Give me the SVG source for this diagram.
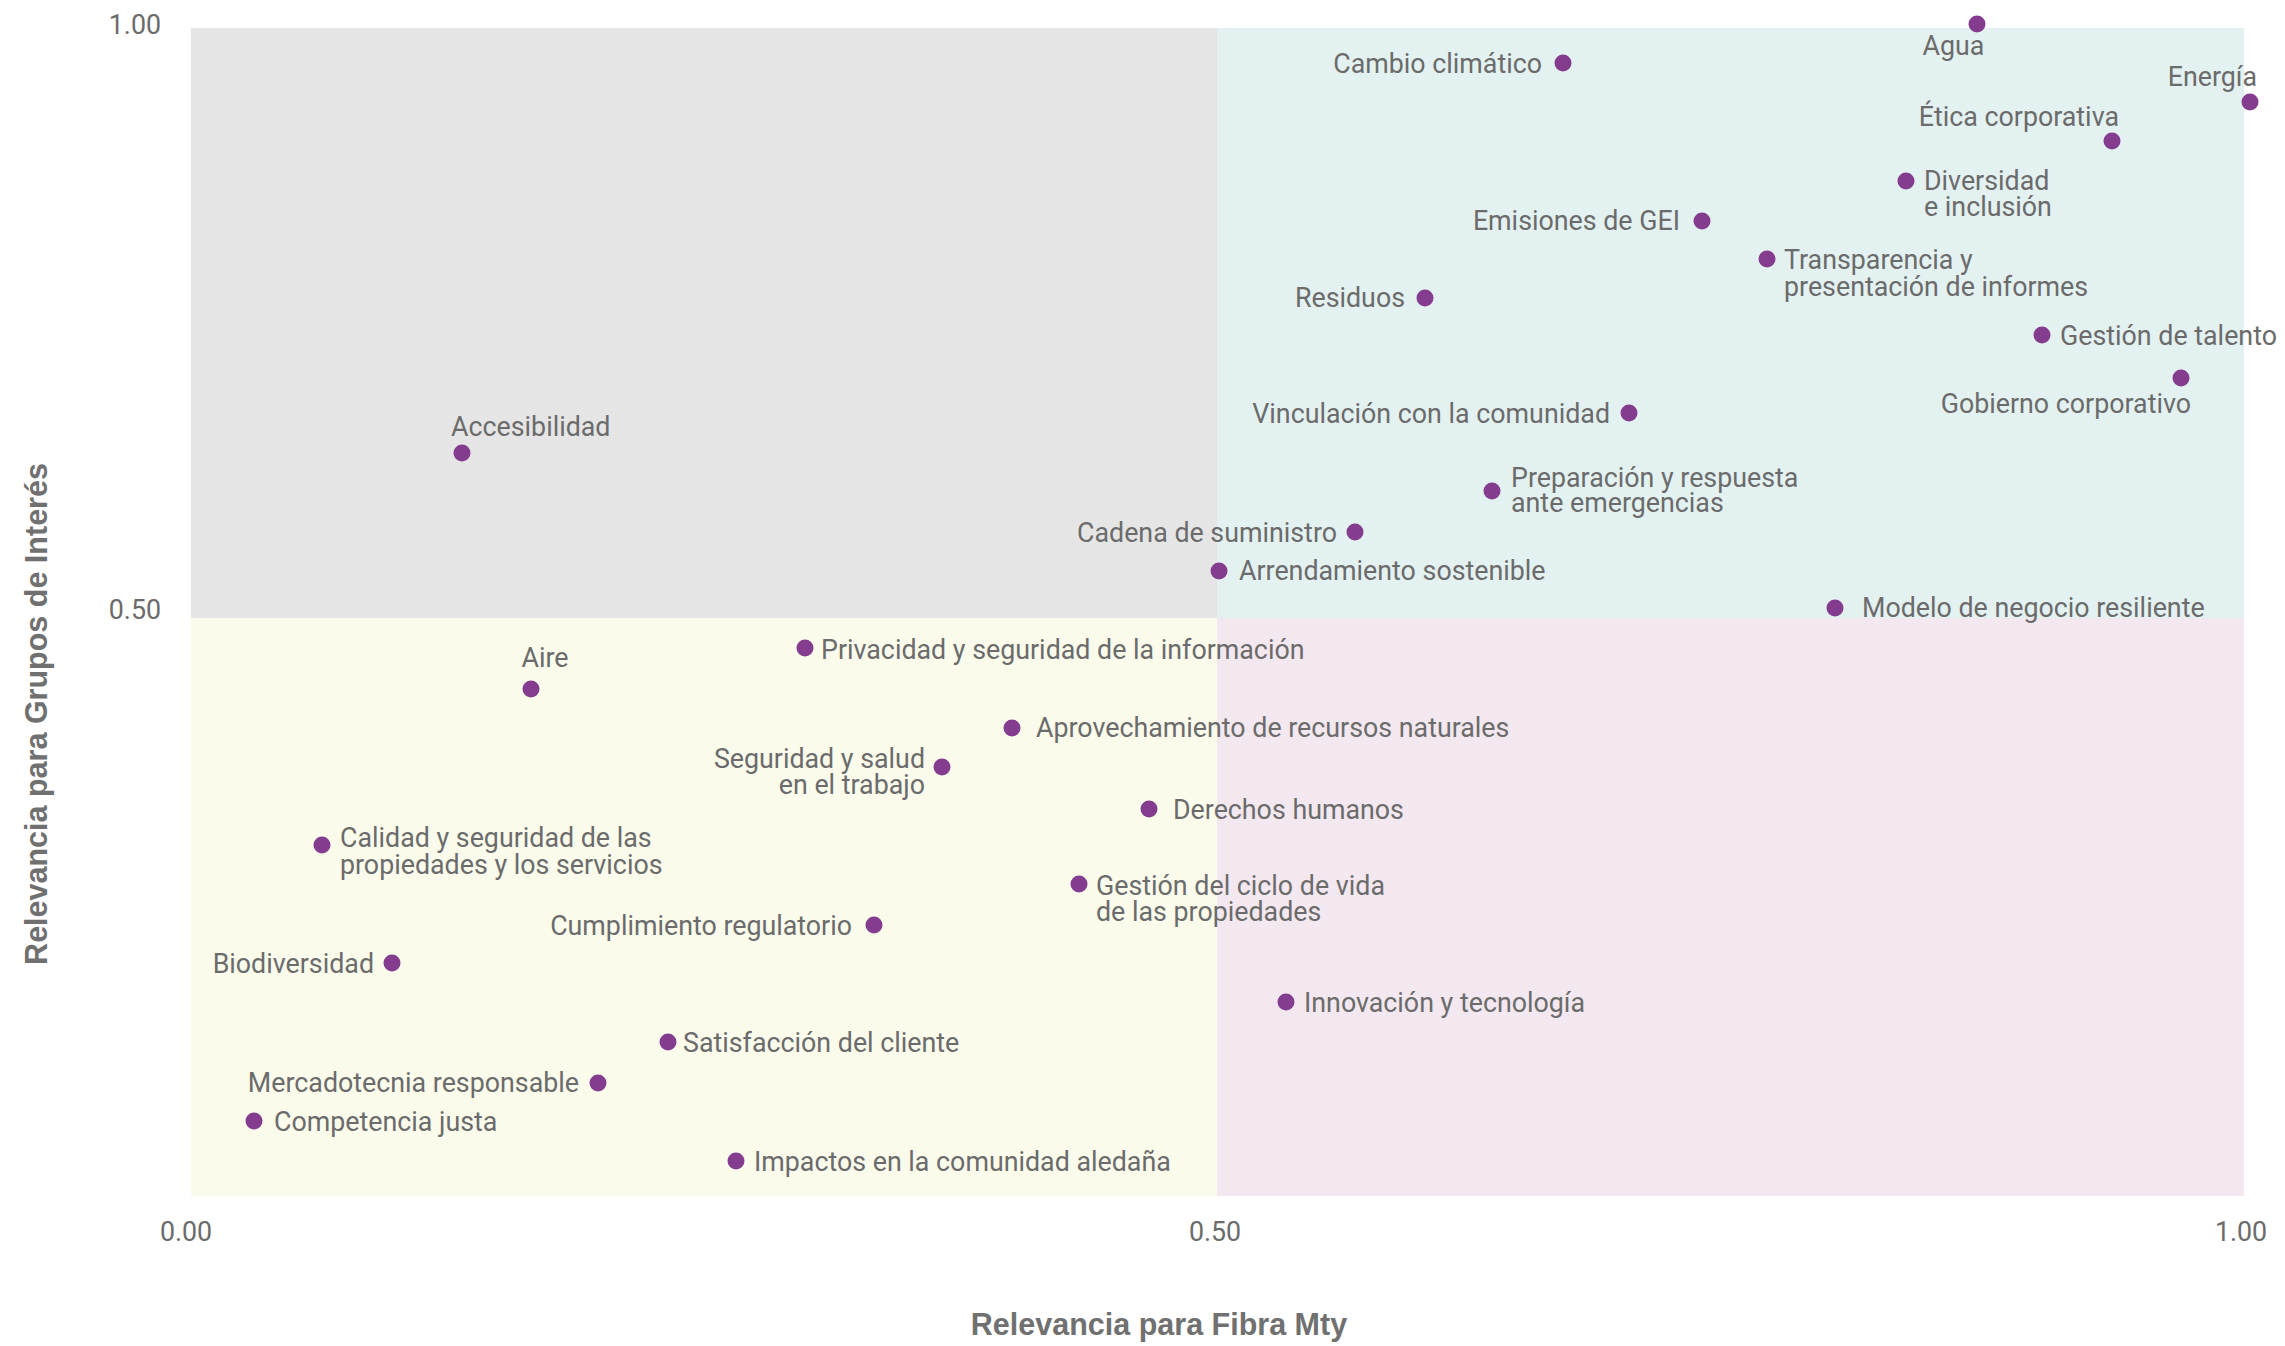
<svg xmlns="http://www.w3.org/2000/svg" width="2285" height="1346" viewBox="0 0 2285 1346">
<style>
.lbl{font-family:Roboto,"Liberation Sans",sans-serif;font-size:26.8px;fill:#6b6b6b}
.e{text-anchor:end}
.m{text-anchor:middle}
.dot{fill:#843c8e}
.tick{font-family:Roboto,"Liberation Sans",sans-serif;font-size:26.8px;fill:#6b6b6b}
.title{font-family:"Liberation Sans",Arial,sans-serif;font-weight:bold;font-size:30.5px;fill:#707070;text-anchor:middle}
</style>
<rect width="2285" height="1346" fill="#ffffff"/>
<g id="quadrants">
<rect x="191" y="28" width="1026" height="590" fill="#e5e5e5"/>
<rect x="1217" y="28" width="1027" height="590" fill="#e4f1f1"/>
<rect x="191" y="618" width="1026" height="578" fill="#fafbeb"/>
<rect x="1217" y="618" width="1027" height="578" fill="#f3e8ef"/>
</g>
<g id="axes">
<text class="tick e" x="161" y="34">1.00</text>
<text class="tick e" x="161" y="619">0.50</text>
<text class="tick m" x="186" y="1241">0.00</text>
<text class="tick m" x="1215" y="1241">0.50</text>
<text class="tick m" x="2241" y="1241">1.00</text>
<text class="title" x="1159" y="1335">Relevancia para Fibra Mty</text>
<text class="title" transform="translate(47,714) rotate(-90)">Relevancia para Grupos de Interés</text>
</g>
<g id="nodes">
<g id="agua"><circle class="dot" cx="1977" cy="24" r="8.5"/><text class="lbl m" x="1953.5" y="55">Agua</text></g>
<g id="energia"><circle class="dot" cx="2250" cy="102" r="8.5"/><text class="lbl e" x="2257" y="86">Energía</text></g>
<g id="etica"><circle class="dot" cx="2112" cy="141" r="8.5"/><text class="lbl e" x="2119" y="126">Ética corporativa</text></g>
<g id="cambio"><circle class="dot" cx="1563" cy="63" r="8.5"/><text class="lbl e" x="1542" y="73">Cambio climático</text></g>
<g id="diversidad"><circle class="dot" cx="1906" cy="181" r="8.5"/><text class="lbl" x="1924" y="190">Diversidad<tspan x="1924" y="216">e inclusión</tspan></text></g>
<g id="emisiones"><circle class="dot" cx="1702" cy="221" r="8.5"/><text class="lbl e" x="1680" y="230">Emisiones de GEI</text></g>
<g id="transparencia"><circle class="dot" cx="1767" cy="259" r="8.5"/><text class="lbl" x="1784" y="269">Transparencia y<tspan x="1784" y="296">presentación de informes</tspan></text></g>
<g id="residuos"><circle class="dot" cx="1425" cy="298" r="8.5"/><text class="lbl e" x="1405" y="307">Residuos</text></g>
<g id="talento"><circle class="dot" cx="2042" cy="335" r="8.5"/><text class="lbl" x="2060" y="345">Gestión de talento</text></g>
<g id="gobierno"><circle class="dot" cx="2181" cy="378" r="8.5"/><text class="lbl e" x="2191" y="413">Gobierno corporativo</text></g>
<g id="vinculacion"><circle class="dot" cx="1629" cy="413" r="8.5"/><text class="lbl e" x="1610" y="423">Vinculación con la comunidad</text></g>
<g id="preparacion"><circle class="dot" cx="1492" cy="491" r="8.5"/><text class="lbl" x="1511" y="487">Preparación y respuesta<tspan x="1511" y="512">ante emergencias</tspan></text></g>
<g id="cadena"><circle class="dot" cx="1355" cy="532" r="8.5"/><text class="lbl e" x="1337" y="542">Cadena de suministro</text></g>
<g id="arrendamiento"><circle class="dot" cx="1219" cy="571" r="8.5"/><text class="lbl" x="1239" y="580">Arrendamiento sostenible</text></g>
<g id="modelo"><circle class="dot" cx="1835" cy="608" r="8.5"/><text class="lbl" x="1862" y="617">Modelo de negocio resiliente</text></g>
<g id="accesibilidad"><circle class="dot" cx="462" cy="453" r="8.5"/><text class="lbl" x="451" y="436">Accesibilidad</text></g>
<g id="aire"><circle class="dot" cx="531" cy="689" r="8.5"/><text class="lbl m" x="545" y="667">Aire</text></g>
<g id="privacidad"><circle class="dot" cx="805" cy="648" r="8.5"/><text class="lbl" x="821" y="659">Privacidad y seguridad de la información</text></g>
<g id="aprovechamiento"><circle class="dot" cx="1012" cy="728" r="8.5"/><text class="lbl" x="1036" y="737">Aprovechamiento de recursos naturales</text></g>
<g id="seguridad"><circle class="dot" cx="942" cy="767" r="8.5"/><text class="lbl e" x="925" y="768">Seguridad y salud<tspan x="925" y="794">en el trabajo</tspan></text></g>
<g id="derechos"><circle class="dot" cx="1149" cy="809" r="8.5"/><text class="lbl" x="1173" y="819">Derechos humanos</text></g>
<g id="calidad"><circle class="dot" cx="322" cy="845" r="8.5"/><text class="lbl" x="340" y="847">Calidad y seguridad de las<tspan x="340" y="874">propiedades y los servicios</tspan></text></g>
<g id="ciclo"><circle class="dot" cx="1079" cy="884" r="8.5"/><text class="lbl" x="1096" y="895">Gestión del ciclo de vida<tspan x="1096" y="921">de las propiedades</tspan></text></g>
<g id="cumplimiento"><circle class="dot" cx="874" cy="925" r="8.5"/><text class="lbl e" x="852" y="935">Cumplimiento regulatorio</text></g>
<g id="biodiversidad"><circle class="dot" cx="392" cy="963" r="8.5"/><text class="lbl e" x="374" y="973">Biodiversidad</text></g>
<g id="innovacion"><circle class="dot" cx="1286" cy="1002" r="8.5"/><text class="lbl" x="1304" y="1012">Innovación y tecnología</text></g>
<g id="satisfaccion"><circle class="dot" cx="668" cy="1042" r="8.5"/><text class="lbl" x="683" y="1052">Satisfacción del cliente</text></g>
<g id="mercadotecnia"><circle class="dot" cx="598" cy="1083" r="8.5"/><text class="lbl e" x="579" y="1092">Mercadotecnia responsable</text></g>
<g id="competencia"><circle class="dot" cx="254" cy="1121" r="8.5"/><text class="lbl" x="274" y="1131">Competencia justa</text></g>
<g id="impactos"><circle class="dot" cx="736" cy="1161" r="8.5"/><text class="lbl" x="754" y="1171">Impactos en la comunidad aledaña</text></g>
</g>
</svg>
